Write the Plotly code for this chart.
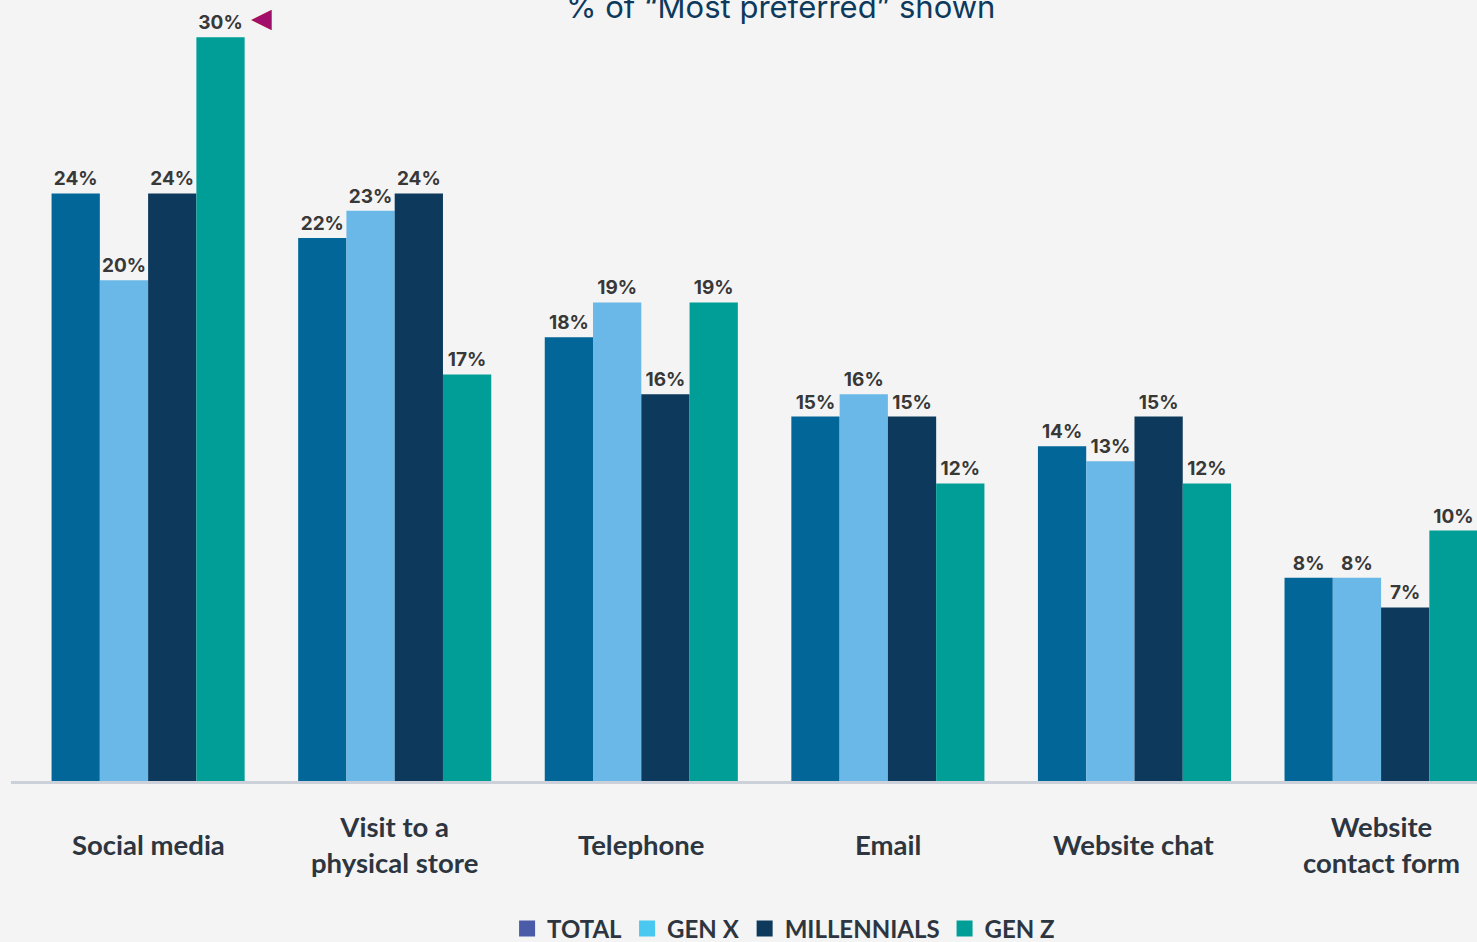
import plotly.graph_objects as go

categories = ["Social media", "Visit to a<br>physical store", "Telephone", "Email", "Website chat", "Website<br>contact form"]
series_names = ["TOTAL", "GEN X", "MILLENNIALS", "GEN Z"]
total = [23.7, 21.9, 17.9, 14.7, 13.5, 8.2]
gen_x = [20.2, 23.0, 19.3, 15.6, 12.9, 8.2]
millennials = [23.7, 23.7, 15.6, 14.7, 14.7, 7.0]
gen_z = [30.0, 16.4, 19.3, 12.0, 12.0, 10.1]
total_labels = ["24%", "22%", "18%", "15%", "14%", "8%"]
gen_x_labels = ["20%", "23%", "19%", "16%", "13%", "8%"]
millennials_labels = ["24%", "24%", "16%", "15%", "15%", "7%"]
gen_z_labels = ["30%", "17%", "19%", "12%", "12%", "10%"]
title_text = "% of \u201cMost preferred\u201d shown"

values = [total, gen_x, millennials, gen_z]
labels = [total_labels, gen_x_labels, millennials_labels, gen_z_labels]
bar_colors = ["#036698", "#6ab8e8", "#0d3a5c", "#009e96"]
legend_colors = ["#4a5ba8", "#4bc8f0", "#0d3a5c", "#009e96"]

fig = go.Figure()
for name, vals, labs, col in zip(series_names, values, labels, bar_colors):
    fig.add_trace(go.Bar(
        x=categories, y=vals, name=name, marker=dict(color=col, line=dict(width=0)),
        text=labs, textposition="outside", cliponaxis=False,
        textfont=dict(family="Inter", size=19, color="#383838", weight="bold"),
        showlegend=False, hoverinfo="skip",
    ))
for name, col in zip(series_names, legend_colors):
    fig.add_trace(go.Scatter(
        x=[None], y=[None], name=name, mode="markers",
        marker=dict(symbol="square", size=22, color=col),
    ))

fig.add_annotation(
    x=0.5246, y=1, xref="paper", yref="paper", text=title_text, showarrow=False,
    xanchor="center", yanchor="middle", yshift=-6,
    font=dict(family="Inter", size=31, color="#0d3a5c"),
)
fig.add_annotation(
    x=categories[0], y=gen_z[0], xref="x", yref="y", text="\u25c0", showarrow=False,
    xshift=113, yshift=21, xanchor="center", yanchor="middle",
    font=dict(size=27, color="#a0106a"),
)
for c in categories:
    fig.add_annotation(
        x=c, y=-0.081, xref="x", yref="paper", text=c, showarrow=False,
        xanchor="center", yanchor="middle",
        font=dict(family="Lato", size=27.5, color="#2d3640", weight="bold"),
    )

fig.update_layout(
    width=1477, height=942,
    margin=dict(l=11, r=0, t=0, b=161),
    paper_bgcolor="#f4f4f4", plot_bgcolor="#f4f4f4",
    barmode="group", bargap=0.217, bargroupgap=0,
    showlegend=True,
    legend=dict(
        orientation="h", x=0.527, xanchor="center",
        yref="container", y=0.0138, yanchor="middle",
        font=dict(family="Lato", size=24, color="#2d3640", weight="bold"),
        bgcolor="rgba(0,0,0,0)", itemsizing="trace",
    ),
    xaxis=dict(
        range=[-0.556, 5.389], showticklabels=False, ticks="", showgrid=False,
        showline=True, linecolor="#ccd1d9", linewidth=3, zeroline=False, fixedrange=True,
    ),
    yaxis=dict(
        range=[0, 31.5], visible=False, showgrid=False, zeroline=False, fixedrange=True,
    ),
)

fig.write_html(
    "out.html",
    config={"displayModeBar": False},
    post_script="document.body.style.margin='0';document.body.style.background='#f4f4f4';",
)
